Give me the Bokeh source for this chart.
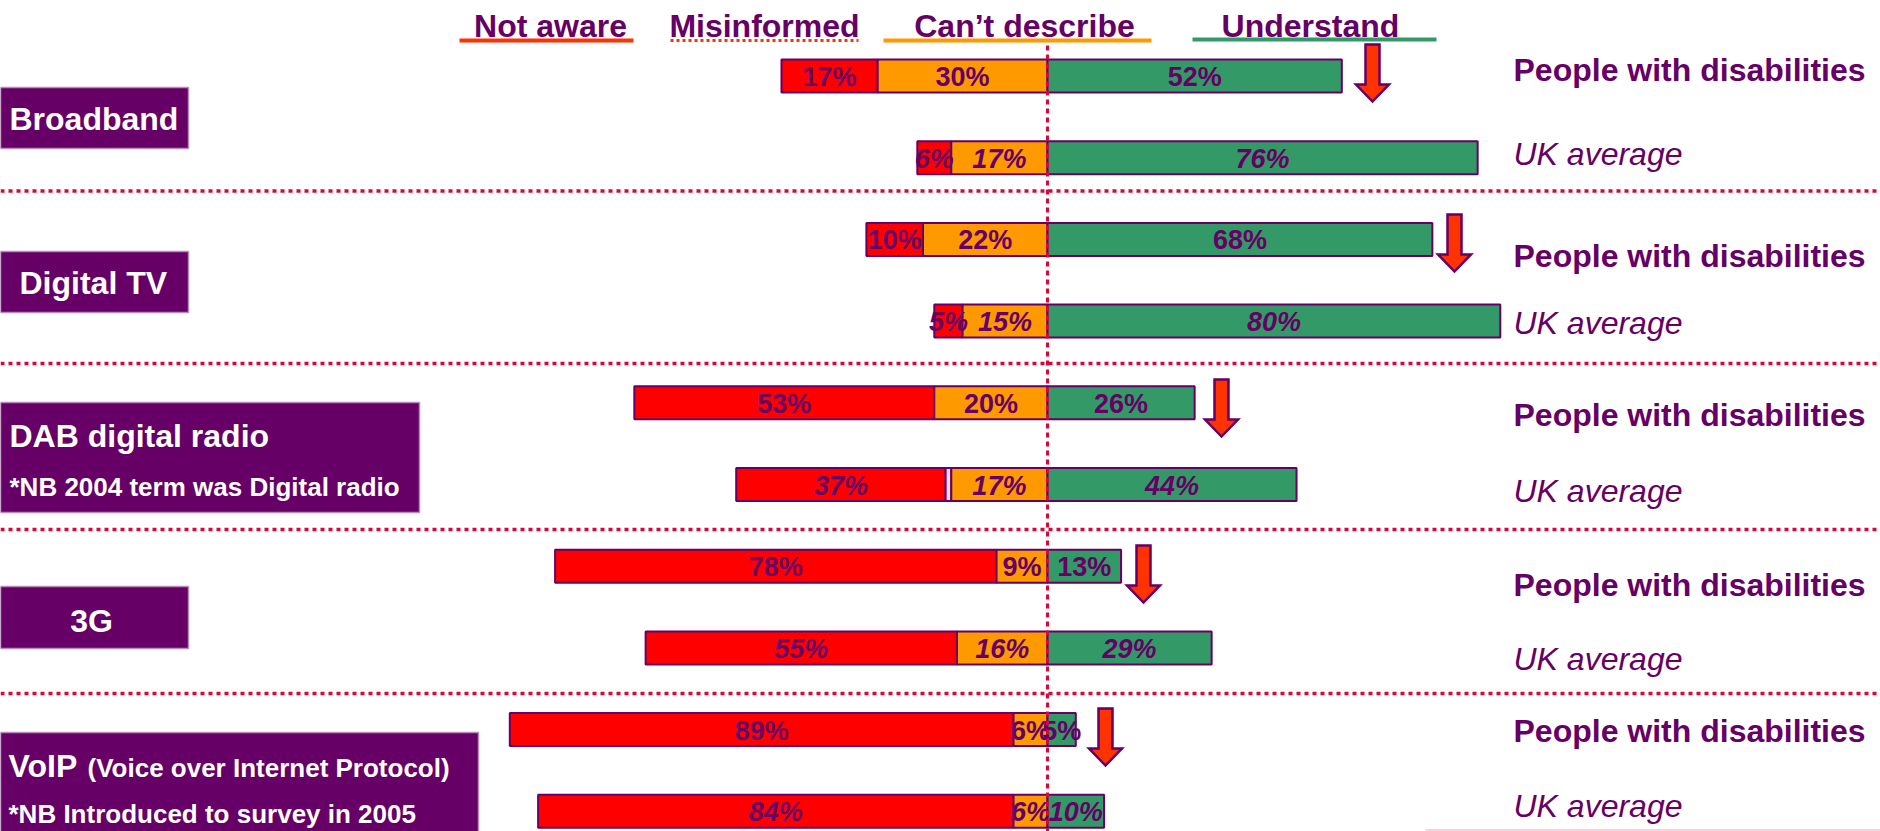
from bokeh.plotting import figure
from bokeh.models import ColumnDataSource, Range1d
from bokeh.embed import file_html
from bokeh.resources import INLINE
from bokeh.core.properties import value

# ---- survey data (percent of respondents) ----
categories = ["Broadband", "Digital TV", "DAB digital radio", "3G", "VoIP"]
segments = ["Not aware", "Misinformed", "Can\u2019t describe", "Understand"]
groups = ["People with disabilities", "UK average"]

pwd_not_aware = [17, 10, 53, 78, 89]
pwd_misinformed = [0, 0, 0, 0, 0]
pwd_cant_describe = [30, 22, 20, 9, 6]
pwd_understand = [52, 68, 26, 13, 5]

uk_not_aware = [6, 5, 37, 55, 84]
uk_misinformed = [0, 0, 1, 0, 0]
uk_cant_describe = [17, 15, 17, 16, 6]
uk_understand = [76, 80, 44, 29, 10]

# ---- layout ----
W, H = 1880, 831
CENTER_PX = 1047.0
PX_PER_PCT = 5.66
ROW0, ROW_STEP, BAR_H = 75.5, 81.7, 33.0

PURPLE = "#660066"
RED = "#ff0000"
ORANGE = "#ff9900"
GREEN = "#339966"
ARROW = "#ff3300"
DOTS = "#d6083b"
FONT = value("Liberation Sans")

p = figure(width=W, height=H, output_backend="svg", toolbar_location=None,
           x_range=Range1d(-CENTER_PX / PX_PER_PCT, (W - CENTER_PX) / PX_PER_PCT),
           y_range=Range1d(H, 0), min_border=0)
p.extra_x_ranges = {"px": Range1d(0, W)}
p.axis.visible = False
p.grid.visible = False
p.outline_line_color = None
p.background_fill_color = "white"
p.border_fill_color = "white"

# ---- stacked diverging bars ----
rows = []
for i in range(len(categories)):
    rows.append((pwd_not_aware[i], pwd_misinformed[i], pwd_cant_describe[i], pwd_understand[i], False))
    rows.append((uk_not_aware[i], uk_misinformed[i], uk_cant_describe[i], uk_understand[i], True))

bars = dict(left=[], right=[], top=[], bottom=[], color=[])
labels = {False: dict(x=[], y=[], text=[]), True: dict(x=[], y=[], text=[])}
for k, (na, mi, cd, un, uk) in enumerate(rows):
    yc = ROW0 + ROW_STEP * k
    spans = [(-(na + mi + cd), -(mi + cd), RED, na),
             (-(mi + cd), -cd, "#f9dada", None),
             (-cd, 0, ORANGE, cd),
             (0, un, GREEN, un)]
    for l, r, c, v in spans:
        if r - l <= 0:
            continue
        bars["left"].append(l)
        bars["right"].append(r)
        bars["top"].append(yc - BAR_H / 2)
        bars["bottom"].append(yc + BAR_H / 2)
        bars["color"].append(c)
        if v is not None:
            labels[uk]["x"].append((l + r) / 2)
            labels[uk]["y"].append(yc + 1)
            labels[uk]["text"].append(f"{v}%")

p.quad(left="left", right="right", top="top", bottom="bottom", fill_color="color",
       line_color=PURPLE, line_width=2, source=ColumnDataSource(bars))

for uk, style in ((False, "bold"), (True, "bold italic")):
    p.text(x="x", y="y", text="text", source=ColumnDataSource(labels[uk]),
           text_font=FONT, text_font_size="27px", text_font_style=style,
           text_color=PURPLE, text_align="center", text_baseline="middle")

# ---- dotted separators and centre line ----
sep_y = [190.5, 363, 529, 693]
p.segment(x0=[0] * 4, x1=[W] * 4, y0=sep_y, y1=sep_y, x_range_name="px",
          line_color=DOTS, line_width=3.5, line_dash="4 4")
p.segment(x0=[0], x1=[0], y0=[45], y1=[H], line_color=DOTS, line_width=3, line_dash="5 4")
p.segment(x0=[1425], x1=[W], y0=[829.5], y1=[829.5], x_range_name="px",
          line_color="#f6d3df", line_width=2)

# ---- downward arrows beside the disability bars ----
arrow_x = [1372, 1454, 1221, 1143, 1105]
arrow_top = [44, 214, 379, 545, 708]
xs, ys = [], []
for ax, at in zip(arrow_x, arrow_top):
    sh, hw, L, hl = 7, 16.5, 57, 17
    xs.append([ax - sh, ax + sh, ax + sh, ax + hw, ax, ax - hw, ax - sh])
    ys.append([at, at, at + L - hl, at + L - hl, at + L, at + L - hl, at + L - hl])
p.patches(xs=xs, ys=ys, x_range_name="px", fill_color=ARROW,
          line_color=PURPLE, line_width=2.5, line_join="miter")

# ---- legend headings ----
leg_x = [550, 764, 1024, 1310]
p.text(x=leg_x, y=[25] * 4, text=segments, x_range_name="px", text_font=FONT,
       text_font_size="32px", text_font_style="bold", text_color=PURPLE,
       text_align="center", text_baseline="middle")
p.segment(x0=[459], x1=[633], y0=[40], y1=[40], x_range_name="px",
          line_color=ARROW, line_width=4)
p.segment(x0=[670], x1=[858], y0=[40], y1=[40], x_range_name="px",
          line_color=ARROW, line_width=3, line_dash="3 3")
p.segment(x0=[883], x1=[1151], y0=[40], y1=[40], x_range_name="px",
          line_color=ORANGE, line_width=4)
p.segment(x0=[1192], x1=[1436], y0=[39], y1=[39], x_range_name="px",
          line_color=GREEN, line_width=4)

# ---- category boxes on the left ----
box_right = [188, 188, 419, 188, 478]
box_top = [87, 251, 402, 586, 732]
box_bottom = [148, 312, 512, 648, 833]
p.quad(left=[0] * 5, right=box_right, top=box_top, bottom=box_bottom, x_range_name="px",
       fill_color=PURPLE, line_color="#b98bb9", line_width=1.5)

big = dict(x_range_name="px", text_font=FONT, text_font_size="32px", text_font_style="bold",
           text_color="white", text_baseline="middle")
small = dict(big, text_font_size="26px")
p.text(x=[9, 19, 9], y=[118, 282, 435], text=[categories[0], categories[1], categories[2]], **big)
p.text(x=[91], y=[620], text=[categories[3]], text_align="center", **big)
p.text(x=[8], y=[765], text=[categories[4]], **big)
p.text(x=[87], y=[767], text=["(Voice over Internet Protocol)"], **small)
p.text(x=[9, 8], y=[486, 813],
       text=["*NB 2004 term was Digital radio", "*NB Introduced to survey in 2005"], **small)

# ---- group labels on the right ----
pwd_label_y = [69.5, 255, 414, 584, 730]
uk_label_y = [153, 322, 490, 658, 805]
p.text(x=[1513] * 5, y=pwd_label_y, text=[groups[0]] * 5, x_range_name="px", text_font=FONT,
       text_font_size="32px", text_font_style="bold", text_color=PURPLE,
       text_baseline="middle")
p.text(x=[1513] * 5, y=uk_label_y, text=[groups[1]] * 5, x_range_name="px", text_font=FONT,
       text_font_size="32px", text_font_style="italic", text_color=PURPLE,
       text_baseline="middle")

open("out.html", "w").write(file_html(p, INLINE))
